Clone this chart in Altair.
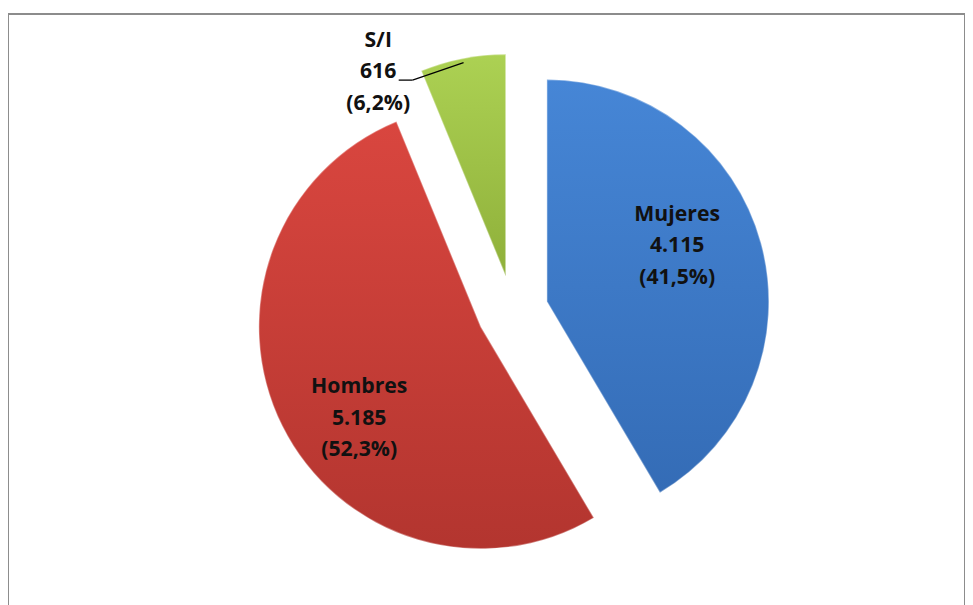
import math
import altair as alt
import pandas as pd

# ---- data ----
categories = ["Mujeres", "Hombres", "S/I"]
values = [4115, 5185, 616]
top_colors = ["#4686d6", "#d9463f", "#acd153"]
bottom_colors = ["#346cb6", "#b3352f", "#8fb03a"]

total = sum(values)


def fmt_int(v):
    return f"{v:,}".replace(",", ".")


def fmt_pct(v):
    return f"({100 * v / total:.1f}%)".replace(".", ",")


starts, ends, mids, labels = [], [], [], []
acc = 0
for c, v in zip(categories, values):
    starts.append(acc)
    ends.append(acc + v)
    mids.append(acc + v / 2)
    labels.append(f"{c}\n{fmt_int(v)}\n{fmt_pct(v)}")
    acc += v

df = pd.DataFrame({"cat": categories, "value": values, "start": starts,
                   "end": ends, "mid": mids, "label": labels})

# ---- geometry / style ----
CX, CY = 511.5, 301
R = 225
EXPLODE = 36
label_style = {  # radius, dx, dy (dy refers to the first line)
    "Mujeres": (140, -3, -51),
    "Hombres": (140, 2, -1),
    "S/I": (244, -82, 1),
}

theta_scale = alt.Scale(domain=[0, total], range=[0, 2 * math.pi])

layers = []
for i, c in enumerate(categories):
    ang = mids[i] / total * 2 * math.pi
    ox = CX + EXPLODE * math.sin(ang)
    oy = CY - EXPLODE * math.cos(ang)
    grad = alt.LinearGradient(
        gradient="linear",
        stops=[alt.GradientStop(color=top_colors[i], offset=0),
               alt.GradientStop(color=bottom_colors[i], offset=1)],
        x1=0, x2=0, y1=0, y2=1,
    )
    base = alt.Chart(df).transform_filter(alt.datum.cat == c)
    arc = base.mark_arc(radius=R, color=grad, stroke="#ffffff",
                        strokeOpacity=0.35, strokeWidth=1.5).encode(
        theta=alt.Theta("start:Q", scale=theta_scale, stack=None),
        theta2="end:Q",
        x=alt.value(ox),
        y=alt.value(oy),
    )
    rl, dx, dy = label_style[c]
    txt = base.mark_text(radius=rl, dx=dx, dy=dy, font="Open Sans", fontSize=21.5,
                         fontWeight="bold", lineBreak="\n", lineHeight=32,
                         align="center", baseline="middle",
                         color="#111111").encode(
        theta=alt.Theta("mid:Q", scale=theta_scale, stack=None),
        text="label:N",
        x=alt.value(ox),
        y=alt.value(oy),
    )
    layers += [arc, txt]

    if c == "S/I":
        ex = ox + 0.98 * R * math.sin(ang)
        ey = oy - 0.98 * R * math.cos(ang)
        lx, ly = 396, 67
        seg1 = base.mark_rule(color="#000000", strokeWidth=1.3).encode(
            x=alt.value(lx), x2=alt.value(lx + 14),
            y=alt.value(ly), y2=alt.value(ly))
        seg2 = base.mark_rule(color="#000000", strokeWidth=1.3).encode(
            x=alt.value(lx + 14), x2=alt.value(ex),
            y=alt.value(ly), y2=alt.value(ey))
        layers += [seg1, seg2]

chart = alt.layer(*layers).properties(
    width=970, height=600, autosize="none",
    padding={"left": 0, "top": 2, "right": 0, "bottom": 0},
).configure_view(stroke="#8c8c8c", strokeWidth=2)

chart.save("out.html", embed_options={"renderer": "svg", "actions": False})
